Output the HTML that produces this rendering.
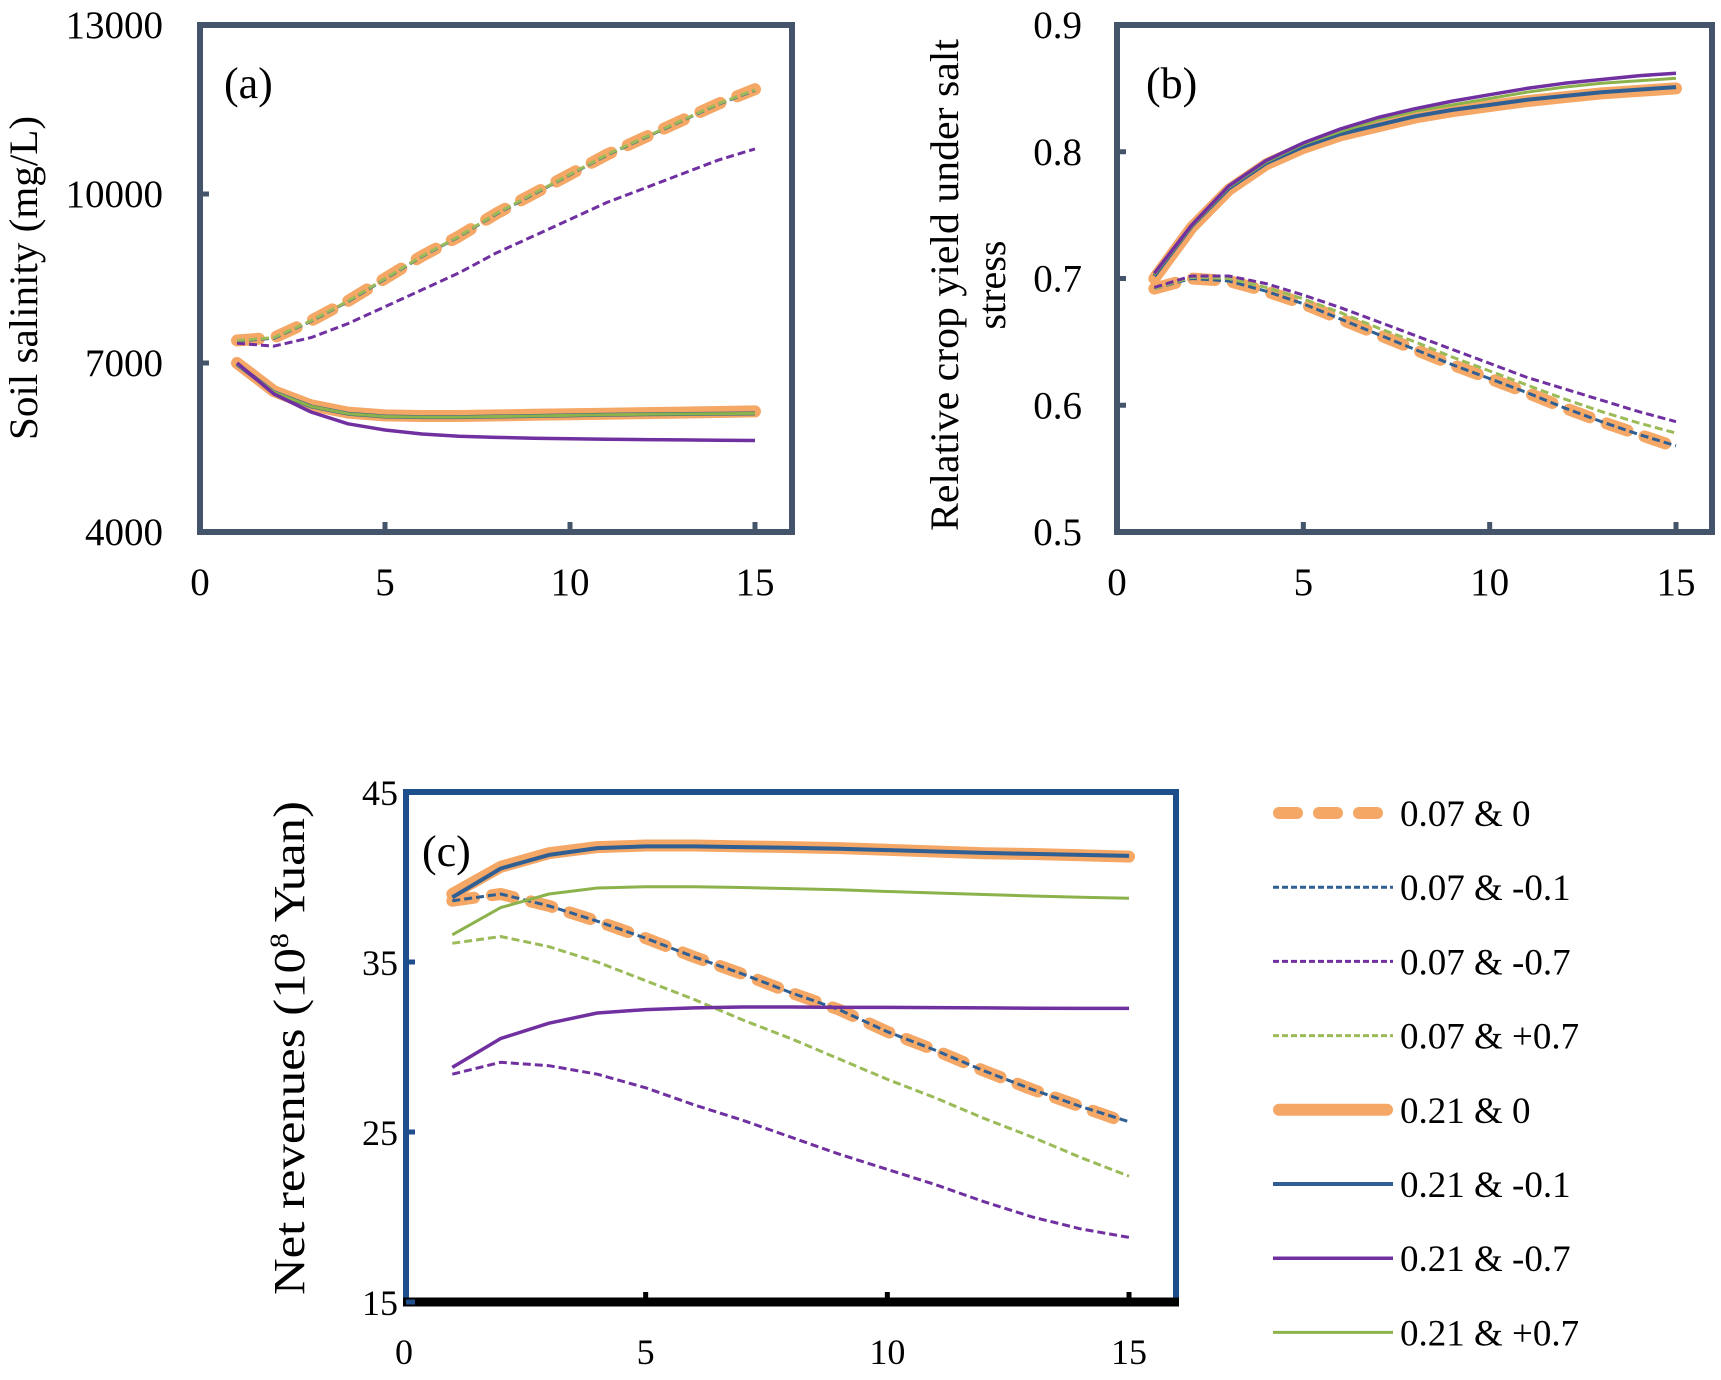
<!DOCTYPE html>
<html><head><meta charset="utf-8"><style>
html,body{margin:0;padding:0;background:#fff}
svg text{font-family:"Liberation Serif",serif;fill:#000}
</style></head><body>
<svg id="svg" width="1721" height="1375" viewBox="0 0 1721 1375" xmlns="http://www.w3.org/2000/svg"></svg>
<script>
const years=[1,2,3,4,5,6,7,8,9,10,11,12,13,14,15];
// Panel a: soil salinity
const aS070=[7400,7450,7750,8100,8500,8900,9250,9650,10000,10350,10700,11000,11300,11600,11860];
const aS07m1=[7390,7440,7740,8090,8490,8890,9240,9640,9990,10340,10690,10990,11290,11590,11840];
const aS07m7=[7350,7300,7450,7700,8000,8300,8600,8950,9250,9550,9850,10100,10350,10600,10800];
const aS07p7=[7400,7450,7750,8100,8500,8900,9250,9650,10000,10350,10700,11000,11300,11600,11850];
const aS210=[7000,6500,6250,6120,6070,6060,6060,6070,6080,6090,6100,6110,6120,6130,6140];
const aS21m1=[6980,6480,6230,6100,6050,6040,6040,6050,6060,6070,6080,6090,6095,6100,6105];
const aS21m7=[7000,6450,6130,5920,5810,5740,5700,5680,5665,5655,5645,5640,5635,5630,5625];
const aS21p7=[6980,6480,6230,6100,6050,6040,6040,6050,6060,6070,6080,6090,6095,6100,6105];
const aTicks=[4000,7000,10000,13000];
// Panel b: relative yield
const b070=[0.692,0.700,0.698,0.690,0.680,0.668,0.656,0.644,0.632,0.621,0.610,0.598,0.587,0.577,0.567];
const b07m1=[0.692,0.700,0.698,0.690,0.680,0.668,0.656,0.644,0.632,0.621,0.610,0.598,0.587,0.577,0.568];
const b07m7=[0.693,0.702,0.702,0.696,0.687,0.677,0.666,0.655,0.644,0.633,0.622,0.613,0.604,0.595,0.587];
const b07p7=[0.692,0.701,0.700,0.693,0.684,0.673,0.661,0.650,0.638,0.627,0.616,0.605,0.595,0.586,0.578];
const b210=[0.700,0.740,0.770,0.790,0.803,0.813,0.820,0.827,0.832,0.836,0.840,0.843,0.846,0.848,0.850];
const b21m1=[0.702,0.741,0.771,0.791,0.804,0.814,0.821,0.828,0.833,0.837,0.841,0.844,0.847,0.849,0.851];
const b21m7=[0.704,0.742,0.773,0.793,0.807,0.818,0.827,0.834,0.840,0.845,0.850,0.854,0.857,0.860,0.862];
const b21p7=[0.703,0.741,0.772,0.792,0.806,0.816,0.825,0.832,0.837,0.842,0.847,0.851,0.854,0.856,0.858];
const bTicks=[0.5,0.6,0.7,0.8,0.9];
// Panel c: net revenues
const c070=[38.6,39.0,38.3,37.4,36.4,35.3,34.3,33.2,32.2,30.9,29.8,28.6,27.5,26.5,25.5];
const c07m1=[38.6,39.0,38.3,37.4,36.4,35.3,34.3,33.2,32.2,30.9,29.8,28.6,27.5,26.5,25.6];
const c07m7=[28.4,29.1,28.9,28.4,27.6,26.6,25.7,24.7,23.7,22.8,21.9,20.9,20.0,19.3,18.8];
const c07p7=[36.1,36.5,35.9,35.0,33.9,32.8,31.6,30.5,29.3,28.1,27.0,25.8,24.7,23.5,22.4];
const c210=[39.0,40.6,41.4,41.76,41.85,41.85,41.8,41.76,41.7,41.6,41.5,41.4,41.35,41.28,41.2];
const c21m1=[38.8,40.5,41.3,41.7,41.8,41.8,41.76,41.72,41.66,41.58,41.5,41.42,41.36,41.3,41.24];
const c21m7=[28.8,30.5,31.4,32.0,32.2,32.3,32.35,32.35,32.33,32.33,32.32,32.3,32.28,32.27,32.27];
const c21p7=[36.6,38.2,39.0,39.35,39.43,39.43,39.38,39.32,39.25,39.15,39.06,38.97,38.88,38.81,38.75];
const cTicks=[15,25,35,45];
const xTicks=[0,5,10,15];
const legendLabels=["0.07 & 0","0.07 & -0.1","0.07 & -0.7","0.07 & +0.7","0.21 & 0","0.21 & -0.1","0.21 & -0.7","0.21 & +0.7"];

const NS="http://www.w3.org/2000/svg";
const svg=document.getElementById('svg');
function mk(tag,attrs,parent){const e=document.createElementNS(NS,tag);for(const k in attrs)e.setAttribute(k,attrs[k]);(parent||svg).appendChild(e);return e;}

const ORANGE="#f5a766",BLUE="#2f5f93",PURPLE="#7030a0",GREEN="#9bbb59",GREENS="#8cb24c";
const styles=[
 {c:ORANGE,w:12,d:"22 18",cap:"round"},
 {c:BLUE,w:3,d:"8 4"},
 {c:PURPLE,w:3,d:"8 4"},
 {c:GREEN,w:3,d:"8 4"},
 {c:ORANGE,w:12,d:null,cap:"round"},
 {c:BLUE,w:4,d:null},
 {c:PURPLE,w:3.5,d:null},
 {c:GREENS,w:3,d:null}
];
const seriesNames=["s-007-0","s-007-m01","s-007-m07","s-007-p07","s-021-0","s-021-m01","s-021-m07","s-021-p07"];

function panel(cfg){
 const g=mk('g',{});
 
 
 const X=v=>cfg.x0+(v-0)*(cfg.x15-cfg.x0)/15;
 const Y=v=>cfg.yb+(v-cfg.ymin)*(cfg.yt-cfg.yb)/(cfg.ymax-cfg.ymin);
 const order=[4,0,5,1,7,3,6,2];
 order.forEach(i=>{
  const s=styles[i],data=cfg.series[i];
  const pts=years.map((yr,j)=>X(yr).toFixed(1)+","+Y(data[j]).toFixed(1)).join(" ");
  const p=mk('polyline',{points:pts,fill:"none",stroke:s.c,"stroke-width":s.w,"stroke-linejoin":"round","stroke-linecap":s.cap||"butt"},g);
  if(s.d)p.setAttribute('stroke-dasharray',s.d);
  
  
 });
 const f=mk('rect',{x:cfg.fl,y:cfg.yt,width:cfg.fr-cfg.fl,height:cfg.yb-cfg.yt,fill:"none",stroke:cfg.fc,"stroke-width":cfg.fw},g);
 
 
 if(cfg.bottomBlack){
  const b=mk('line',{x1:cfg.fl-3,x2:cfg.fr+3,y1:cfg.yb,y2:cfg.yb,stroke:"#000","stroke-width":9},g);
  
  
 }
 const tc=cfg.bottomBlack?"#000":cfg.fc;
 xTicks.forEach(t=>{
  if(t>0){const tk=mk('line',{x1:X(t),x2:X(t),y1:cfg.yb,y2:cfg.yb-10,stroke:tc,"stroke-width":5},g);
  
  }
  const tx=mk('text',{x:X(t),y:cfg.xly,"font-size":cfg.fs,"text-anchor":"middle"},g);
  tx.textContent=t;
  
  
 });
 cfg.ticks.forEach(t=>{
  const tk=mk('line',{x1:cfg.fl,x2:cfg.fl+9,y1:Y(t),y2:Y(t),stroke:cfg.fc,"stroke-width":5},g);
  
  
  const tx=mk('text',{x:cfg.ylx,y:Y(t)+13,"font-size":cfg.fs,"text-anchor":"end"},g);
  tx.textContent=t;
  
  
 });
 const pl=mk('text',{x:cfg.plx,y:cfg.ply,"font-size":44},g);
 pl.textContent=cfg.label;
 
 
 cfg.ytitle.forEach((line,k)=>{
  const t=mk('text',{x:0,y:0,"font-size":cfg.tfs,"text-anchor":"middle",transform:`translate(${cfg.ytx[k]},${cfg.yty}) rotate(-90)`},g);
  t.innerHTML=line;
  if(cfg.tlen[k]){t.setAttribute('textLength',cfg.tlen[k]);t.setAttribute('lengthAdjust','spacingAndGlyphs');}
  
  
 });
}

panel({name:"panel-a",series:[aS070,aS07m1,aS07m7,aS07p7,aS210,aS21m1,aS21m7,aS21p7],
 x0:200,x15:755,fl:200,fr:792,yt:25,yb:532,ymin:4000,ymax:13000,fc:"#44546a",fw:6,
 ticks:aTicks,ylx:163,xly:595,fs:39,label:"(a)",plx:224,ply:98,
 tfs:40,tlen:[324],ytitle:["Soil salinity (mg/L)"],ytx:[37],yty:278});
panel({name:"panel-b",series:[b070,b07m1,b07m7,b07p7,b210,b21m1,b21m7,b21p7],
 x0:1117,x15:1676,fl:1117,fr:1712,yt:25,yb:532,ymin:0.5,ymax:0.9,fc:"#44546a",fw:6,
 ticks:bTicks,ylx:1082,xly:595,fs:39,label:"(b)",plx:1146,ply:98,
 tfs:40,tlen:[492,null],ytitle:["Relative crop yield under salt","stress"],ytx:[958,1005],yty:285});
panel({name:"panel-c",series:[c070,c07m1,c07m7,c07p7,c210,c21m1,c21m7,c21p7],
 x0:404,x15:1129,fl:406,fr:1176,yt:792,yb:1302,ymin:15,ymax:45,fc:"#1f4e8c",fw:6,bottomBlack:true,
 ticks:cTicks,ylx:398,xly:1364,fs:36,label:"(c)",plx:422,ply:866,
 tfs:44,tlen:[494],ytitle:["Net revenues (10<tspan font-size='26' dy='-16'>8</tspan><tspan dy='16'> Yuan)</tspan>"],ytx:[304],yty:1048});

const lg=mk('g',{});


legendLabels.forEach((lab,i)=>{
 const y=813+i*74.2;
 const s=styles[i];
 const e=mk('g',{},lg);
 
 
 const l=mk('line',{x1:1273+(s.cap?6:0),x2:1393-(s.cap?6:0),y1:y,y2:y,stroke:s.c,"stroke-width":s.w,"stroke-linecap":s.cap||"butt"},e);
 if(s.d)l.setAttribute('stroke-dasharray',i===0?"18 22":"6 3");
 
 
 const t=mk('text',{x:1400,y:y+13,"font-size":37},e);
 t.textContent=lab;
 
 
});
</script>
</body></html>
